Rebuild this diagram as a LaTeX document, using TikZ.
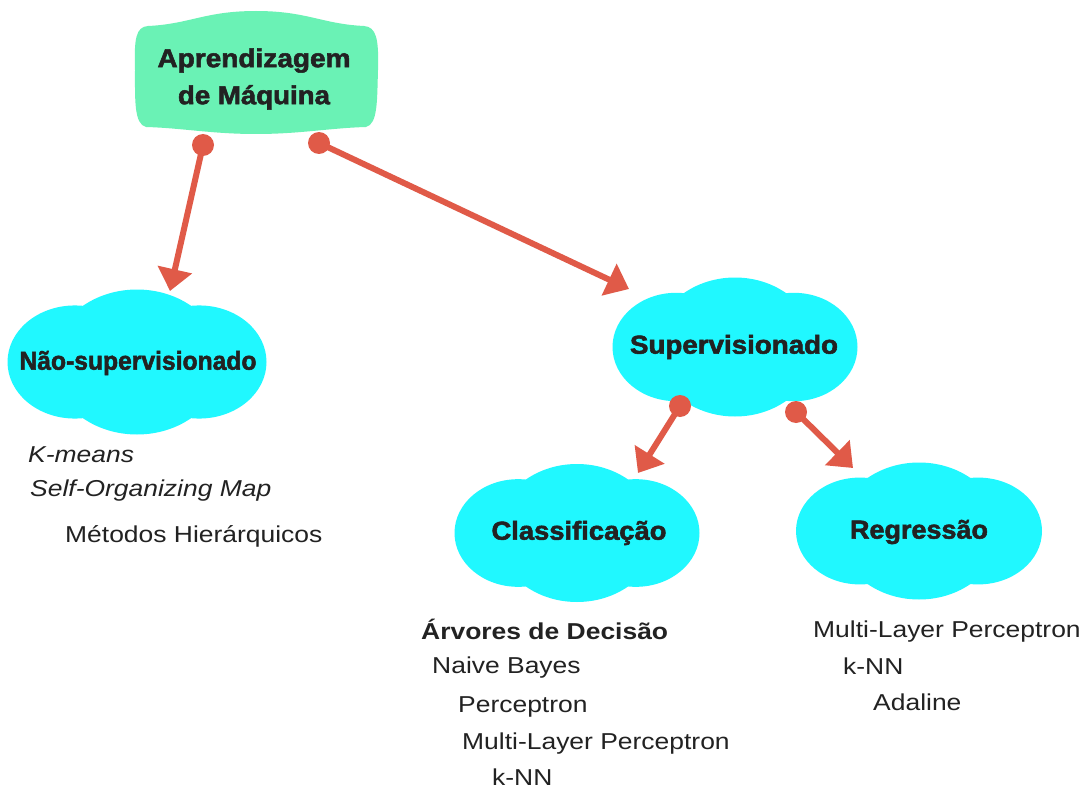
\documentclass[tikz,border=0pt]{standalone}
\usepackage{fontspec}
\usepackage{graphicx}
\setmainfont{Liberation Sans}
\newfontfamily\headfont{Liberation Sans}[BoldFeatures={FakeBold=2}]
\usetikzlibrary{arrows.meta}

\definecolor{mintfill}{RGB}{106,242,181}
\definecolor{cyanfill}{RGB}{32,248,255}
\definecolor{linkred}{RGB}{224,90,72}
\definecolor{inkdark}{RGB}{34,34,34}

% three-lobed cloud: centre x, centre y, width, height
\newcommand{\cloudblob}[4]{%
  \fill[cyanfill] (#1,#2) ellipse [x radius={0.33*#3pt}, y radius={0.5*#4pt}];
  \fill[cyanfill] ({#1-0.24*#3},#2) ellipse [x radius={0.26*#3pt}, y radius={0.39*#4pt}];
  \fill[cyanfill] ({#1+0.24*#3},#2) ellipse [x radius={0.26*#3pt}, y radius={0.39*#4pt}];}
% heading word set to a given width
\newcommand{\hw}[2]{\resizebox{#1pt}{\height}{#2}}
% slightly widened body text
\newcommand{\wide}[1]{\scalebox{1.15}[1]{#1}}

\tikzset{
  head/.style={font=\headfont\bfseries\fontsize{26}{37}\selectfont, text=inkdark, inner sep=0pt, align=center},
  item/.style={font=\fontsize{23}{27}\selectfont, text=inkdark, inner sep=0pt, anchor=base west},
  linkdot/.style={circle, fill=linkred, minimum size=22pt, inner sep=0pt},
  link/.style={draw=linkred, line width=6pt, -{Triangle[length=22pt,width=34pt]}},
}

\begin{document}
\begin{tikzpicture}[x=1pt,y=-1pt]
\useasboundingbox (0,0) rectangle (1090,789);
\fill[white] (0,0) rectangle (1090,789);

% root box
\fill[mintfill] (148,26)
  .. controls (190,24) and (205,11) .. (256,11)
  .. controls (307,11) and (322,24) .. (364,26)
  .. controls (376,27) and (379,38) .. (378,70)
  .. controls (377,100) and (378,124) .. (366,127)
  .. controls (330,128) and (300,134) .. (256,134)
  .. controls (212,134) and (182,128) .. (146,127)
  .. controls (134,124) and (135,100) .. (135,70)
  .. controls (134,38) and (136,27) .. (148,26) -- cycle;
\node[head] (ml) at (254,79) {\hw{193}{Aprendizagem}\\\hw{152}{de Máquina}};

% clouds
\cloudblob{137}{362}{259}{145}
\cloudblob{735}{347}{245}{139}
\cloudblob{577}{533}{245}{138}
\cloudblob{919}{531}{246}{137}

\node[head] (nsup) at (138,363) {\hw{237}{Não-supervisionado}};
\node[head] (sup)  at (734,347) {\hw{208}{Supervisionado}};
\node[head] (cls)  at (579,533) {\hw{175}{Classificação}};
\node[head] (reg)  at (919,532) {\hw{138}{Regressão}};

% connectors
\coordinate (t1) at (170,291);
\coordinate (t2) at (629,289);
\coordinate (t3) at (638,473);
\coordinate (t4) at (853,468);
\node[linkdot] (d1) at (203,145) {};
\node[linkdot] (d2) at (319,143) {};
\node[linkdot] (d3) at (680,406) {};
\node[linkdot] (d4) at (796,412) {};
\draw[link] (d1.center) -- (t1);
\draw[link] (d2.center) -- (t2);
\draw[link] (d3.center) -- (t3);
\draw[link] (d4.center) -- (t4);

% unsupervised methods
\node[item] (km)  at (28,462) {\wide{\itshape K-means}};
\node[item] (som) at (30,496) {\wide{\itshape Self-Organizing Map}};
\node[item] (hie) at (65,542) {\wide{Métodos Hierárquicos}};

% classification methods
\node[item] (ad)  at (421,639) {\wide{\bfseries Árvores de Decisão}};
\node[item] (nb)  at (432,673) {\wide{Naive Bayes}};
\node[item] (pc)  at (458,712) {\wide{Perceptron}};
\node[item] (mlp) at (462,749) {\wide{Multi-Layer Perceptron}};
\node[item] (knn) at (492,785) {\wide{k-NN}};

% regression methods
\node[item] (rmlp) at (813,637) {\wide{Multi-Layer Perceptron}};
\node[item] (rknn) at (843,674) {\wide{k-NN}};
\node[item] (ada)  at (873,710) {\wide{Adaline}};
\end{tikzpicture}
\end{document}
